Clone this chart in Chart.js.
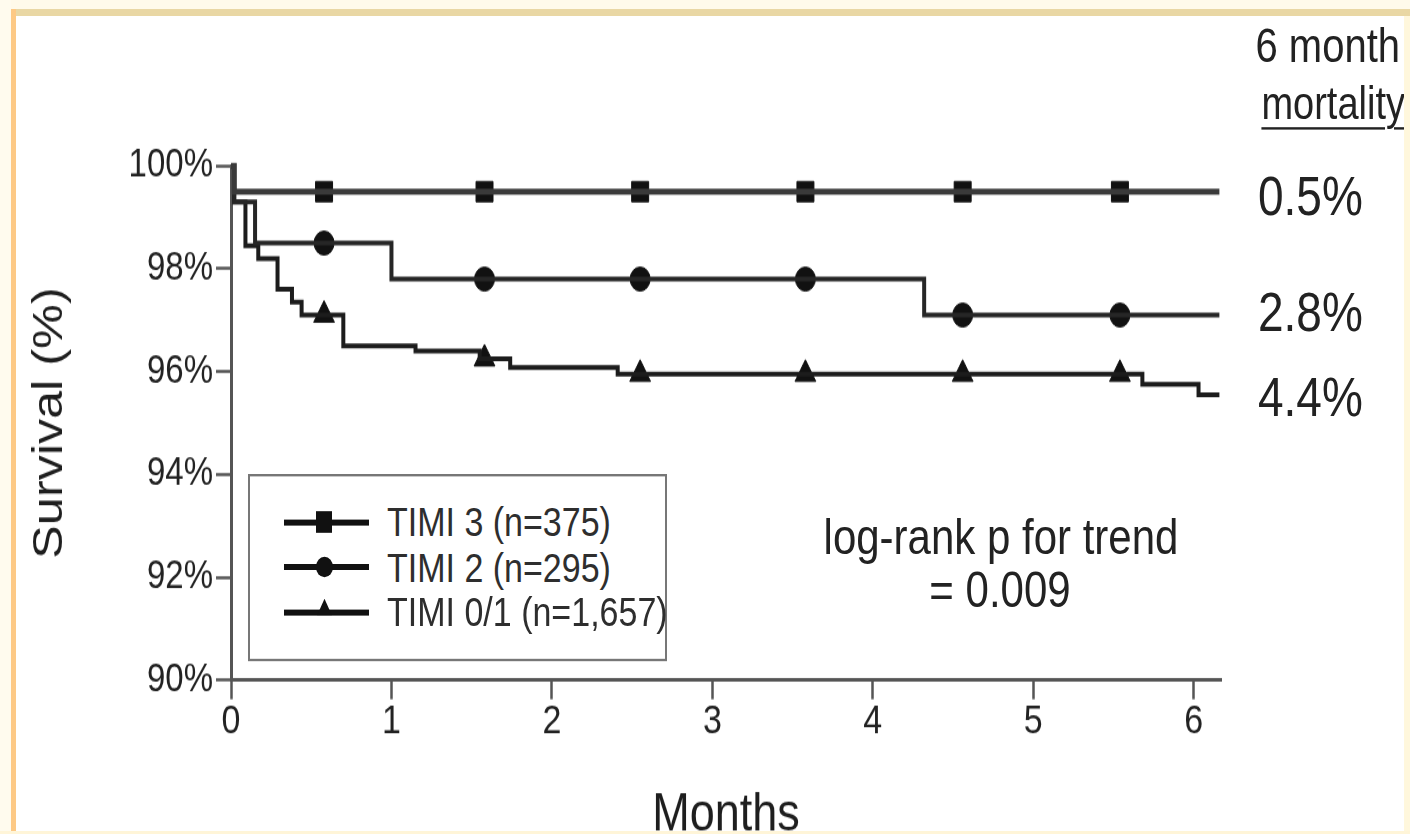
<!DOCTYPE html>
<html>
<head>
<meta charset="utf-8">
<script src="https://cdn.jsdelivr.net/npm/chart.js@4.4.1/dist/chart.umd.min.js"></script>
<style>
html,body{margin:0;padding:0;background:#fff;overflow:hidden;}
body{width:1410px;height:834px;position:relative;font-family:"Liberation Sans",Arial,sans-serif;color:#222;}
/* the scanned figure is stretched vertically, so everything is drawn in a 695px tall stage and scaled */
#stage{position:absolute;left:0;top:0;width:1410px;height:695px;transform:scaleY(1.2);transform-origin:0 0;}
#chart-box{position:absolute;left:0;top:0;width:1410px;height:695px;}
.note{position:absolute;white-space:nowrap;line-height:1;transform:translateY(-50%);}
.center{transform:translate(-50%,-50%);}
#legend{position:absolute;left:248px;top:395px;width:415px;height:152px;border:2px solid #777;background:#fff;}
.row{position:absolute;left:0;height:0;}
.swatch-line{position:absolute;left:34px;width:85px;height:5px;top:-2.5px;background:#111;}
.swatch-mark{position:absolute;background:#111;}
.row-text{position:absolute;left:137px;font-size:34px;line-height:1;transform:translateY(-50%);white-space:nowrap;color:#2e2e2e;}
.frame{position:absolute;}
</style>
</head>
<body>
<div id="stage">
  <div id="chart-box"><canvas id="chart"></canvas></div>
  <div id="notes"></div>
  <div id="legend"></div>
</div>
<div class="frame" style="left:0;top:0;width:1410px;height:9px;background:#fffaea;"></div>
<div class="frame" style="left:0;top:9px;width:1410px;height:7px;background:#e9d7a4;"></div>
<div class="frame" style="left:0;top:0;width:11px;height:834px;background:#fffbee;"></div>
<div class="frame" style="left:11px;top:9px;width:5px;height:825px;background:#fdc985;"></div>
<div class="frame" style="right:0;top:16px;width:6px;height:818px;background:#fff7dc;"></div>
<div class="frame" style="left:0;bottom:0;width:1410px;height:3px;background:#fff5d8;"></div>
<script>
const xTicks = [0, 1, 2, 3, 4, 5, 6];
const yTicks = [90, 92, 94, 96, 98, 100];

const seriesNames = ["TIMI 3 (n=375)", "TIMI 2 (n=295)", "TIMI 0/1 (n=1,657)"];
const mortalityLabels = ["0.5%", "2.8%", "4.4%"];

// Kaplan-Meier steps: survival (%) from each month on
const timi3Months = [0, 0.02, 6.16];
const timi3Surv = [100, 99.5, 99.5];

const timi2Months = [0, 0.02, 0.15, 1.0, 4.32, 6.16];
const timi2Surv = [100, 99.3, 98.5, 97.8, 97.1, 97.1];

const timi01Months = [0, 0.02, 0.09, 0.17, 0.29, 0.38, 0.44, 0.70, 1.15, 1.55, 1.74, 2.41, 5.68, 6.03, 6.16];
const timi01Surv = [100, 99.3, 98.45, 98.2, 97.6, 97.35, 97.1, 96.5, 96.4, 96.25, 96.08, 95.95, 95.75, 95.55, 95.55];

// months where the symbols sit on the curves
const markerMonths = [0.58, 1.58, 2.55, 3.58, 4.56, 5.54];

const pValueLines = ["log-rank p for trend", "= 0.009"];

const FONT = '"Liberation Sans", Arial, sans-serif';

const curves = [
  {months: timi3Months, surv: timi3Surv, marker: "rect", radius: 12, color: "#3a3a3a", width: 5},
  {months: timi2Months, surv: timi2Surv, marker: "circle", radius: 10, color: "#262626", width: 4},
  {months: timi01Months, surv: timi01Surv, marker: "triangle", radius: 12, color: "#1c1c1c", width: 4}
];

function survAt(c, t){
  let v = c.surv[0];
  c.months.forEach((m, i) => { if(m <= t) v = c.surv[i]; });
  return v;
}

const datasets = [];
curves.forEach((c, i) => {
  datasets.push({
    label: seriesNames[i],
    data: c.months.map((m, j) => ({x: m, y: c.surv[j]})),
    stepped: true,
    borderColor: c.color,
    borderWidth: c.width,
    pointRadius: 0,
    fill: false,
    clip: false
  });
});
curves.forEach((c, i) => {
  datasets.push({
    label: seriesNames[i] + " symbols",
    data: markerMonths.map(m => ({x: m, y: survAt(c, m)})),
    showLine: false,
    pointStyle: c.marker,
    pointRadius: c.radius,
    backgroundColor: "#111",
    borderColor: "#111",
    borderWidth: 1,
    clip: false
  });
});

new Chart(document.getElementById("chart"), {
  type: "line",
  data: {datasets},
  options: {
    responsive: true,
    maintainAspectRatio: false,
    animation: false,
    layout: {padding: {top: 138.3, right: 189, bottom: 0, left: 0}},
    plugins: {legend: {display: false}, tooltip: {enabled: false}},
    scales: {
      x: {
        type: "linear",
        min: 0,
        max: 6.17,
        afterBuildTicks: s => { s.ticks = xTicks.map(v => ({value: v})); },
        afterFit: s => { s.height = 128.3; },
        ticks: {font: {size: 34, family: FONT}, color: "#222", padding: -1},
        grid: {drawOnChartArea: false, tickLength: 16, tickColor: "#555", tickWidth: 2.5},
        border: {color: "#555", width: 3},
        title: {display: true, text: "Months", color: "#1e1e1e", padding: 0,
                font: {size: 45, family: FONT, lineHeight: 0.7}}
      },
      y: {
        min: 90,
        max: 100,
        afterBuildTicks: s => { s.ticks = yTicks.map(v => ({value: v})); },
        afterFit: s => { s.width = 231; },
        ticks: {font: {size: 33, family: FONT}, color: "#222", padding: 3,
                callback: v => v + "%"},
        grid: {drawOnChartArea: false, tickLength: 15, tickColor: "#555", tickWidth: 2.5},
        border: {color: "#555", width: 3},
        title: {display: true, text: "Survival (%)", color: "#1e1e1e", padding: {top: 25, bottom: 0},
                font: {size: 42, family: FONT}}
      }
    }
  }
});

// side notes
const notes = document.getElementById("notes");
function addNote(text, style, cls){
  const d = document.createElement("div");
  d.className = "note" + (cls ? " " + cls : "");
  d.textContent = text;
  Object.assign(d.style, style);
  notes.appendChild(d);
  return d;
}
addNote("6 month", {right: "10px", top: "38px", fontSize: "40px"});
const mort = addNote("mortality", {right: "5px", top: "86px", fontSize: "38px"});
mort.style.textDecoration = "underline";
mort.style.textDecorationThickness = "2px";
mort.style.textUnderlineOffset = "7px";

const mortTops = [163, 260, 331];
mortalityLabels.forEach((t, i) => addNote(t, {left: "1258px", top: mortTops[i] + "px", fontSize: "46px"}));

addNote(pValueLines[0], {left: "1001px", top: "448px", fontSize: "42px"}, "center");
addNote(pValueLines[1], {left: "1000px", top: "492px", fontSize: "42px"}, "center");

// legend inside the plot
const legend = document.getElementById("legend");
const rowTops = [38, 75.5, 113];
curves.forEach((c, i) => {
  const row = document.createElement("div");
  row.className = "row";
  row.style.top = rowTops[i] + "px";
  const line = document.createElement("div");
  line.className = "swatch-line";
  row.appendChild(line);
  const mk = document.createElement("div");
  mk.className = "swatch-mark";
  if(c.marker === "rect"){
    Object.assign(mk.style, {left: "66px", top: "-9px", width: "16px", height: "18px"});
  } else if(c.marker === "circle"){
    Object.assign(mk.style, {left: "66px", top: "-8.5px", width: "17px", height: "17px", borderRadius: "50%"});
  } else {
    Object.assign(mk.style, {left: "67px", top: "-11px", width: "15px", height: "14px", clipPath: "polygon(50% 0, 100% 100%, 0 100%)"});
  }
  row.appendChild(mk);
  const tx = document.createElement("div");
  tx.className = "row-text";
  tx.textContent = seriesNames[i];
  row.appendChild(tx);
  legend.appendChild(row);
});
</script>
</body>
</html>
